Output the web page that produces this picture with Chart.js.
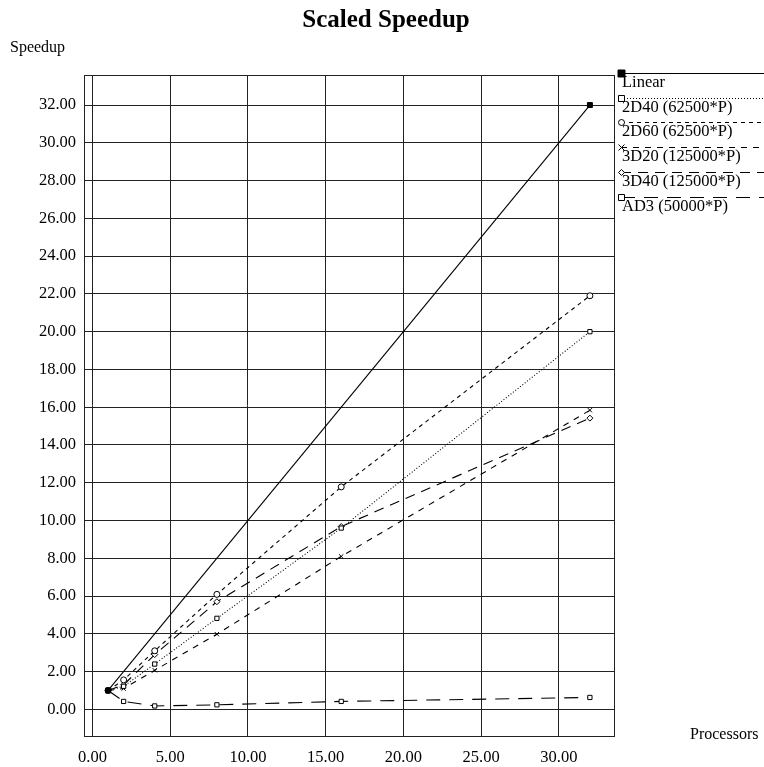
<!DOCTYPE html>
<html>
<head>
<meta charset="utf-8">
<script src="https://cdn.jsdelivr.net/npm/chart.js@4/dist/chart.umd.min.js"></script>
<style>
  html, body { margin: 0; padding: 0; background: #fff; }
  #wrap { width: 764px; height: 767px; }
</style>
</head>
<body>
<div id="wrap"><canvas id="speedupChart"></canvas></div>
<script>
// processors (x) and speedup per configuration
const procs = [1, 2, 4, 8, 16, 32];
const linearProcs = [1, 32];
const linear = [1, 32];
const d2_40 = [1, 1.22, 2.4, 4.82, 9.6, 20.0];
const d2_60 = [1, 1.56, 3.1, 6.09, 11.78, 21.9];
const d3_20 = [1, 1.1, 2.07, 3.98, 8.1, 15.84];
const d3_40 = [1, 1.3, 2.9, 5.7, 9.68, 15.42];
const ad3 = [1, 0.42, 0.18, 0.24, 0.42, 0.63];

const xTicks = [0, 5, 10, 15, 20, 25, 30];
const yTicks = [0, 2, 4, 6, 8, 10, 12, 14, 16, 18, 20, 22, 24, 26, 28, 30, 32];

const FONT = "'Liberation Serif', 'DejaVu Serif', serif";

function pts(xs, vals) {
  return xs.map((p, i) => ({ x: p, y: vals[i] }));
}

// 5% padding around the data range, like the original plot
const allY = [].concat(linear, d2_40, d2_60, d3_20, d3_40, ad3);
const xLo = Math.min(...procs), xHi = Math.max(...procs);
const yLo = Math.min(...allY), yHi = Math.max(...allY);
const xPad = (xHi - xLo) * 0.05, yPad = (yHi - yLo) * 0.05;

function series(label, xs, vals, dash, style, filled, radius) {
  return {
    label: label,
    data: pts(xs, vals),
    borderColor: '#000',
    borderWidth: 1.1,
    borderDash: dash,
    pointStyle: style,
    pointRadius: radius,
    pointBorderWidth: 1,
    pointBorderColor: '#000',
    pointBackgroundColor: filled ? '#000' : '#fff',
    fill: false,
    tension: 0
  };
}

function marker(ctx, style, x, y, r, filled) {
  ctx.save();
  ctx.setLineDash([]);
  ctx.lineWidth = 1;
  ctx.strokeStyle = '#000';
  ctx.fillStyle = filled ? '#000' : '#fff';
  ctx.beginPath();
  if (style === 'rect') {
    ctx.rect(x - r, y - r, 2 * r, 2 * r);
    ctx.fill(); ctx.stroke();
  } else if (style === 'circle') {
    ctx.arc(x, y, r, 0, Math.PI * 2);
    ctx.fill(); ctx.stroke();
  } else if (style === 'rectRot') {
    ctx.moveTo(x, y - r); ctx.lineTo(x + r, y); ctx.lineTo(x, y + r); ctx.lineTo(x - r, y); ctx.closePath();
    ctx.fill(); ctx.stroke();
  } else if (style === 'crossRot') {
    ctx.moveTo(x - r, y - r); ctx.lineTo(x + r, y + r);
    ctx.moveTo(x + r, y - r); ctx.lineTo(x - r, y + r);
    ctx.stroke();
  }
  ctx.restore();
}

const decorations = {
  id: 'decorations',
  beforeDatasetsDraw(chart) {
    const { ctx, chartArea: a } = chart;
    ctx.save();
    ctx.strokeStyle = '#222';
    ctx.lineWidth = 1;
    ctx.strokeRect(a.left + 0.5, a.top + 0.5, a.right - a.left, a.bottom - a.top);
    ctx.restore();
  },
  afterDraw(chart) {
    const { ctx } = chart;
    ctx.save();
    ctx.fillStyle = '#000';
    ctx.font = 'bold 25px ' + FONT;
    ctx.textAlign = 'center';
    ctx.textBaseline = 'middle';
    ctx.fillText('Scaled Speedup', 386, 21);
    ctx.font = '16px ' + FONT;
    ctx.textAlign = 'left';
    ctx.fillText('Speedup', 10, 48);
    ctx.fillText('Processors', 690, 735);

    // legend: line across the full width, marker at its left end, label below
    chart.data.datasets.forEach((ds, i) => {
      const y = Math.round(73 + i * 24.7) + 0.5;
      ctx.save();
      ctx.strokeStyle = '#000';
      ctx.lineWidth = 1;
      ctx.setLineDash(ds.borderDash || []);
      ctx.beginPath();
      ctx.moveTo(621, y);
      ctx.lineTo(764, y);
      ctx.stroke();
      ctx.restore();
      marker(ctx, ds.pointStyle, 621.5, y, ds.pointRadius, ds.pointBackgroundColor === '#000');
      ctx.fillStyle = '#000';
      ctx.font = '16.5px ' + FONT;
      ctx.textBaseline = 'middle';
      ctx.fillText(ds.label, 622, y + 9.5);
    });
    ctx.restore();
  }
};

const ctx = document.getElementById('speedupChart').getContext('2d');
const chart = new Chart(ctx, {
  type: 'line',
  data: {
    datasets: [
      series('Linear', linearProcs, linear, [], 'rect', true, 3.5),
      series('2D40 (62500*P)', procs, d2_40, [1, 2], 'rect', false, 3),
      series('2D60 (62500*P)', procs, d2_60, [4, 4], 'circle', false, 3),
      series('3D20 (125000*P)', procs, d3_20, [6, 6], 'crossRot', false, 3),
      series('3D40 (125000*P)', procs, d3_40, [10, 7], 'rectRot', false, 3),
      series('AD3 (50000*P)', procs, ad3, [14, 9], 'rect', false, 3)
    ]
  },
  options: {
    responsive: true,
    maintainAspectRatio: false,
    animation: false,
    layout: { padding: { top: 75, right: 150, left: 0, bottom: 0 } },
    plugins: {
      legend: { display: false },
      title: { display: false },
      tooltip: { enabled: false }
    },
    scales: {
      x: {
        type: 'linear',
        min: xLo - xPad,
        max: xHi + xPad,
        afterFit: s => { s.height = 31; },
        afterBuildTicks: s => { s.ticks = xTicks.map(v => ({ value: v })); },
        grid: { color: '#222', lineWidth: 1, drawTicks: false },
        border: { display: false },
        ticks: {
          color: '#000',
          font: { family: FONT, size: 16.5 },
          padding: 12,
          maxRotation: 0,
          autoSkip: false,
          callback: v => Number(v).toFixed(2)
        }
      },
      y: {
        type: 'linear',
        min: yLo - yPad,
        max: yHi + yPad,
        afterFit: s => { s.width = 84; },
        afterBuildTicks: s => { s.ticks = yTicks.map(v => ({ value: v })); },
        grid: { color: '#222', lineWidth: 1, drawTicks: false },
        border: { display: false },
        ticks: {
          color: '#000',
          font: { family: FONT, size: 16.5 },
          padding: 8,
          autoSkip: false,
          callback: v => Number(v).toFixed(2)
        }
      }
    }
  },
  plugins: [decorations]
});
</script>
</body>
</html>
